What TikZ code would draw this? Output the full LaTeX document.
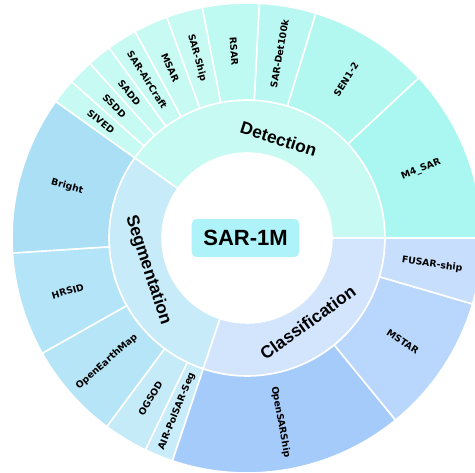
\documentclass[tikz,border=0pt]{standalone}
\usepackage{fontspec}
\setmainfont{DejaVu Sans}
\newfontfamily\ringfont{Liberation Sans}

\definecolor{detin}{HTML}{C6FAF3}
\definecolor{m4col}{HTML}{A9F7F0}
\definecolor{sencol}{HTML}{B2F8F1}
\definecolor{det100col}{HTML}{B9F8F2}
\definecolor{rsarcol}{HTML}{BEF9F2}
\definecolor{lightdet}{HTML}{C6FAF2}
\definecolor{segin}{HTML}{C8EBF9}
\definecolor{brightcol}{HTML}{AADFF6}
\definecolor{hrsidcol}{HTML}{B4E4F7}
\definecolor{oemcol}{HTML}{B6E5F7}
\definecolor{ogsodcol}{HTML}{C5EAF8}
\definecolor{aircol}{HTML}{C8ECF9}
\definecolor{clsin}{HTML}{D2E5FD}
\definecolor{osscol}{HTML}{A5CBFA}
\definecolor{mstarcol}{HTML}{B9D7FC}
\definecolor{fusarcol}{HTML}{C7DFFC}
\definecolor{rootcol}{HTML}{ADF3F9}

\tikzset{every picture/.style={line width=0.75pt}}
\tikzset{
  wedge/.style={draw=white, line width=1.2pt},
  outlabel/.style={font=\bfseries\fontsize{7}{8}\selectfont, inner sep=0.75pt},
  ringlabel/.style={font=\ringfont\bfseries\fontsize{13}{15}\selectfont, inner sep=0.75pt},
  rootbox/.style={fill=rootcol, rounded corners=3.75pt, minimum width=80.7pt, minimum height=28.7pt, inner sep=0pt, font=\ringfont\bfseries\fontsize{16.5}{18}\selectfont}
}

\begin{document}
\begin{tikzpicture}[x=0.75pt,y=0.75pt,yscale=-1,xscale=1]
%set diagram to 475 x 472
\useasboundingbox (0,0) rectangle (475,472);
\clip (0,0) rectangle (475,472);

\begin{scope}[shift={(247,238)},yscale=-1]
%Inner ring: tasks
\foreach \a/\b/\col/\lab/\nm in {0/144.5/detin/Detection/det, 144.5/251.5/segin/Segmentation/seg, 251.5/360/clsin/Classification/cls}{
  \fill[wedge, fill=\col] (\a:85) arc[start angle=\a, end angle=\b, radius=85] -- (\b:138) arc[start angle=\b, end angle=\a, radius=138] -- cycle;
  \pgfmathsetmacro{\midang}{(\a+\b)/2}
  \pgfmathsetmacro{\rot}{\midang<180 ? \midang-90 : \midang+90}
  \node[ringlabel, rotate=\rot] (\nm) at (\midang:104) {\lab};
}

%Outer ring: datasets
\foreach \a/\b/\col/\lab/\nm in {
  0/43/m4col/M4\_SAR/mfour,
  43/73/sencol/SEN1-2/sen,
  73/87/det100col/SAR-Det100k/dethundk,
  87/101/rsarcol/RSAR/rsar,
  101/110/lightdet/SAR-Ship/sarship,
  110/118.5/lightdet/MSAR/msar,
  118.5/126/lightdet/SAR-AirCraft/aircraft,
  126/132/lightdet/SADD/sadd,
  132/138.3/lightdet/SSDD/ssdd,
  138.3/144.5/lightdet/SIVED/sived,
  144.5/183.7/brightcol/Bright/bright,
  183.7/209.4/hrsidcol/HRSID/hrsid,
  209.4/233.4/oemcol/OpenEarthMap/oem,
  233.4/244.4/ogsodcol/OGSOD/ogsod,
  244.4/251.5/aircol/AIR-PolSAR-Seg/polsar,
  251.5/309.2/osscol/OpenSARShip/oss,
  309.2/343.7/mstarcol/MSTAR/mstar,
  343.7/360/fusarcol/FUSAR-ship/fusar}{
  \fill[wedge, fill=\col] (\a:138) arc[start angle=\a, end angle=\b, radius=138] -- (\b:235) arc[start angle=\b, end angle=\a, radius=235] -- cycle;
  \pgfmathsetmacro{\midang}{(\a+\b)/2}
  \pgfmathsetmacro{\rot}{\midang>270 ? \midang : (\midang<90 ? \midang : \midang-180)}
  \node[outlabel, rotate=\rot] (\nm) at (\midang:187) {\lab};
}
\end{scope}

% Text Node
\node[rootbox] (root) at (245.5,238) {SAR-1M};

\end{tikzpicture}
\end{document}
